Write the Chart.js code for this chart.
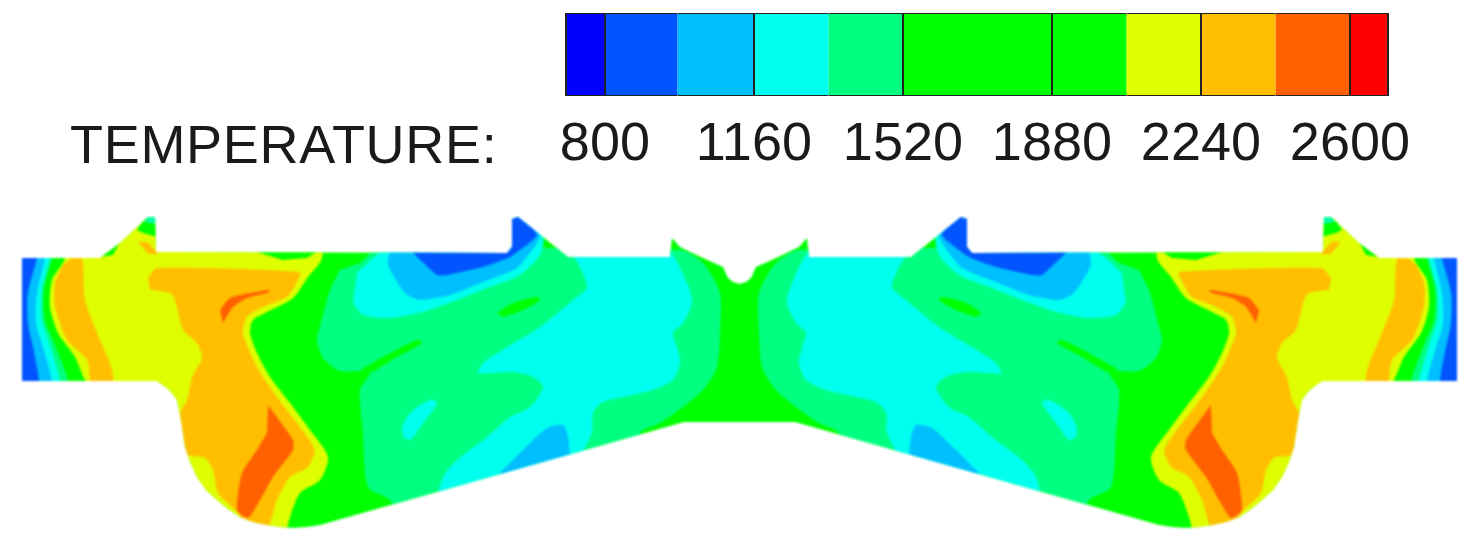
<!DOCTYPE html>
<html>
<head>
<meta charset="utf-8">
<title>Temperature contour</title>
<script src="https://cdn.jsdelivr.net/npm/chart.js@4"></script>
<style>
  html, body { margin: 0; padding: 0; background: #fff; overflow: hidden; }
  #wrap { position: relative; width: 1478px; height: 546px; }
  canvas { position: absolute; left: 0; }
  #chartBar { top: 0; filter: blur(.5px); }
  #chartField { top: 0; filter: blur(1px); }
  #barLabel {
    position: absolute; left: 70px; top: 113px;
    font: 54px "Liberation Sans", Arial, sans-serif; color: #1a1a1a;
    letter-spacing: .7px; line-height: 62px; filter: blur(.5px); white-space: nowrap;
  }
</style>
</head>
<body>
<div id="wrap">
  <canvas id="chartField" width="1478" height="546"></canvas>
  <canvas id="chartBar" width="1478" height="200"></canvas>
  <div id="barLabel">TEMPERATURE:</div>
</div>
<script>
/* ============================
   Data
   ============================ */
const tickValues = [800, 1160, 1520, 1880, 2240, 2600];
const bandEdges = [706, 800, 975, 1160, 1340, 1520, 1880, 2060, 2240, 2420, 2600, 2692];
const bandColors = ["#0000ff", "#0055ff", "#00bfff", "#00ffee", "#00ff80", "#00ff00", "#00ff00", "#dfff00", "#ffbf00", "#ff6000", "#ff0000"];

// left half of the section, the right half is its mirror image
const outlineTop = [[22,258],[100,258],[120,243],[148,217],[155,217],[156,252],[507,253],[512,247],[512,219],[518,217],[568,257],[670,257],[672,238],[680,247],[703,258],[723,267],[728,278],[733,282],[739,284]];
const outlineBottom = [[739,422],[684,422],[320,525],[307,527],[293,528],[280,527],[267,525],[253,522],[240,517],[228,509],[217,500],[206,490],[197,477],[190,462],[185,447],[183,433],[181,420],[177,400],[172,393],[167,388],[157,381],[22,381]];

const baseGreen = [[0,200],[745,200],[745,545],[0,545]];

const edgeSpring = [[5,240],[54,240],[52,258],[44,290],[45,320],[55,345],[68,381],[68,400],[5,400]];
const edgeCyan = [[5,240],[52,240],[50,258],[42,290],[42,320],[50,345],[60,381],[60,400],[5,400]];
const edgeSky = [[5,240],[47,240],[45,258],[37,293],[36,323],[43,347],[52,381],[52,400],[5,400]];
const edgeBlue = [[5,240],[39,240],[37,258],[28,293],[28,323],[33,347],[39,380],[39,400],[5,400]];

const hotYellow = [[65,200],[65,258],[52,280],[50,307],[58,333],[75,357],[85,380],[100,400],[150,450],[200,545],[287,545],[287,530],[290,517],[300,493],[320,480],[328,457],[310,430],[290,403],[270,377],[257,353],[250,333],[253,320],[267,312],[293,298],[308,277],[322,258],[323,200]];
const topSliver = [[250,250],[283,260],[307,258],[320,250]];
const tipGreenLow = [[100,257],[120,242],[113,255]];
const tipGreen = [[137,230],[147,215],[160,215],[160,237],[143,233]];
const tipSpring = [[145,222],[150,212],[160,212],[160,225]];
const tipOrange = [[138,242],[147,242],[158,254],[148,254]];

const orangeBand = [[70,259],[82,259],[85,300],[100,340],[112,370],[112,395],[93,395],[87,360],[67,340],[55,307],[55,283],[63,265]];
const orangeBig = [[148,278],[157,268],[300,272],[297,282],[287,297],[263,307],[247,317],[243,333],[257,367],[277,397],[300,427],[315,450],[308,467],[290,477],[277,500],[267,530],[248,530],[238,513],[218,493],[213,470],[205,458],[193,456],[187,455],[182,433],[180,413],[187,400],[192,377],[202,358],[197,343],[183,330],[175,300],[170,293],[150,290]];
const redLower = [[268,405],[293,440],[293,450],[273,477],[260,500],[248,518],[237,510],[242,473],[257,450],[267,433]];
const redUpper = [[220,310],[230,298],[250,293],[270,290],[267,293],[247,298],[233,307],[223,323]];

const coolSpring = [[360,263],[377,250],[680,250],[703,263],[720,293],[720,333],[717,367],[703,390],[683,407],[660,423],[640,433],[640,470],[400,520],[390,500],[368,487],[363,433],[360,390],[370,372],[340,371],[323,358],[317,340],[320,327],[330,290],[340,270]];
const streakLower = [[360,370],[383,357],[417,340],[422,343],[397,357],[373,372]];
const streakUpper = [[497,313],[513,303],[537,297],[540,300],[523,310],[503,317]];
const coolCyan = [[570,250],[667,250],[687,283],[692,303],[683,323],[673,333],[677,347],[680,363],[673,380],[653,390],[623,397],[603,402],[593,413],[592,433],[573,462],[440,500],[443,477],[457,460],[487,437],[510,417],[530,407],[543,387],[533,377],[513,372],[490,373],[478,373],[483,363],[507,347],[540,327],[573,300],[587,287],[580,267]];
const upperCyan = [[353,303],[363,315],[390,318],[423,312],[457,300],[490,287],[520,275],[540,255],[543,237],[520,210],[400,240],[373,258],[357,273]];
const cyanPocket = [[402,427],[410,413],[430,400],[437,403],[423,423],[410,440],[403,437]];
const upperSky = [[390,250],[388,265],[405,293],[420,300],[450,295],[483,282],[517,268],[537,243],[540,233],[517,210],[390,240]];
const lowerSky = [[500,473],[523,450],[547,428],[563,425],[568,437],[570,457],[570,480],[500,500]];
const upperBlue = [[410,250],[437,275],[447,275],[483,267],[510,257],[537,235],[515,210],[500,230],[500,240],[410,240]];

const fieldLayers = [
  [baseGreen, "#00ff00", 0],
  [edgeSpring, "#00ff80", .3], [edgeCyan, "#00ffee", .3], [edgeSky, "#00bfff", .3], [edgeBlue, "#0055ff", .3],
  [hotYellow, "#dfff00", .25], [topSliver, "#00ff00", 0],
  [tipGreenLow, "#00ff00", 0], [tipGreen, "#00ff00", .1], [tipSpring, "#00ffa0", .1], [tipOrange, "#ffbf00", .1],
  [orangeBand, "#ffbf00", .25], [orangeBig, "#ffbf00", .2], [redLower, "#ff6000", .2], [redUpper, "#ff6000", .2],
  [coolSpring, "#00ff80", .25], [streakLower, "#00ff00", .3], [streakUpper, "#00ff00", .3],
  [coolCyan, "#00ffee", .25], [upperCyan, "#00ffee", .25], [cyanPocket, "#00ffee", .3],
  [upperSky, "#00bfff", .2], [lowerSky, "#00bfff", .2], [upperBlue, "#0055ff", .15],
];

/* ============================
   Contour field
   ============================ */
const FOLD = 1479; // x of mirror image = FOLD - x

const toPoints = shape => shape.map(([x, y]) => ({ x, y }));
const toMirror = shape => shape.map(([x, y]) => ({ x: FOLD - x, y }));

// contour shapes are allowed to overflow, the section outline cuts them
const outlineClip = {
  id: "outlineClip",
  beforeDatasetsDraw(chart) {
    const { ctx, scales } = chart;
    const ring = [
      ...toPoints(outlineTop), ...toMirror(outlineTop).reverse(),
      ...toMirror(outlineBottom).reverse(), ...toPoints(outlineBottom)
    ];
    ctx.save();
    ctx.beginPath();
    ring.forEach((p, i) => {
      const px = scales.x.getPixelForValue(p.x);
      const py = scales.y.getPixelForValue(p.y);
      if (i === 0) ctx.moveTo(px, py); else ctx.lineTo(px, py);
    });
    ctx.closePath();
    ctx.clip();
  },
  afterDatasetsDraw(chart) {
    chart.ctx.restore();
  }
};

const fieldDatasets = [];
fieldLayers.forEach(([shape, color, tension], i) => {
  [toPoints(shape), toMirror(shape)].forEach(data => {
    fieldDatasets.push({
      data,
      showLine: true,
      fill: "shape",
      backgroundColor: color,
      borderWidth: 0,
      pointRadius: 0,
      tension,
      order: fieldLayers.length - i
    });
  });
});

new Chart(document.getElementById("chartField"), {
  type: "scatter",
  data: { datasets: fieldDatasets },
  plugins: [outlineClip],
  options: {
    responsive: false,
    animation: false,
    layout: { padding: 0 },
    plugins: { legend: { display: false }, tooltip: { enabled: false } },
    scales: {
      x: { type: "linear", min: 0, max: 1478, display: false },
      y: { type: "linear", min: 0, max: 546, reverse: true, display: false }
    }
  }
});

/* ============================
   Colour bar
   ============================ */
const barDatasets = bandColors.map((color, i) => ({
  data: [[bandEdges[i], bandEdges[i + 1]]],
  backgroundColor: color,
  borderColor: "#222",
  borderWidth: { top: 2, bottom: 2, left: 0, right: 0 },
  borderSkipped: false,
  inflateAmount: 1,
  grouped: false,
  barPercentage: 1,
  categoryPercentage: 1
}));

new Chart(document.getElementById("chartBar"), {
  type: "bar",
  data: { labels: ["T"], datasets: barDatasets },
  options: {
    indexAxis: "y",
    responsive: false,
    animation: false,
    layout: { padding: { left: 566, right: 90, top: 13, bottom: 0 } },
    plugins: { legend: { display: false }, tooltip: { enabled: false } },
    scales: {
      y: { display: false },
      x: {
        type: "linear",
        min: bandEdges[0],
        max: bandEdges[bandEdges.length - 1],
        afterBuildTicks: axis => {
          axis.ticks = [bandEdges[0], ...tickValues, bandEdges[bandEdges.length - 1]].map(value => ({ value }));
        },
        afterFit: axis => { axis.height = 104; },
        grid: { color: "#222", lineWidth: 2, z: 1, drawTicks: false },
        border: { display: false },
        ticks: {
          autoSkip: false,
          maxRotation: 0,
          padding: 17,
          color: "#1a1a1a",
          font: { family: "'Liberation Sans', Arial, sans-serif", size: 54 },
          callback: v => tickValues.includes(v) ? String(v) : ""
        }
      }
    }
  }
});
</script>
</body>
</html>
